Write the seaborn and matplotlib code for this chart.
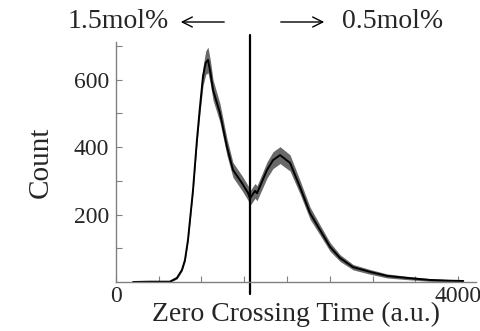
import matplotlib
matplotlib.use("Agg")
import matplotlib.pyplot as plt
import seaborn as sns
import pandas as pd
import numpy as np

# Data
zct = [200, 400, 630, 713, 772, 807, 842, 901, 947, 982, 1018, 1050, 1076, 1105, 1135,
       1216, 1298, 1368, 1474, 1544, 1567, 1626, 1649, 1766, 1836, 1918, 2035, 2152,
       2269, 2386, 2503, 2620, 2772, 2971, 3170, 3404, 3673, 3900, 4060]
counts = [0, 1, 1, 12, 36, 65, 124, 272, 421, 518, 610, 650, 658, 620, 569,
          501, 400, 332, 293, 264, 248, 270, 263, 332, 361, 376, 353, 281,
          204, 154, 104, 71, 44, 30, 18, 12, 6, 4, 3]
spread = [2, 2, 2, 3, 4, 5, 6, 8, 12, 18, 28, 35, 38, 35, 30,
          28, 25, 22, 22, 22, 22, 22, 22, 24, 25, 25, 24, 20,
          18, 15, 13, 10, 8, 7, 6, 5, 4, 3, 3]
boundary = 1565
xtick_vals = [0, 500, 1000, 1500, 2000, 2500, 3000, 3500, 4000]
xtick_labels = ["0", "", "", "", "", "", "", "", "4000"]
ytick_major = [200, 400, 600]
ytick_minor = [100, 300, 500, 700]

df = pd.DataFrame({"t": zct, "c": counts})
lo = np.array(counts) - np.array(spread)
hi = np.array(counts) + np.array(spread)

sns.set_theme(style="ticks")
plt.rcParams["font.family"] = ["Liberation Serif", "DejaVu Serif"]

fig = plt.figure(figsize=(4.81, 3.31), dpi=100)
ax = fig.add_axes([0.241, 0.148, 0.749, 0.725])

ax.fill_between(zct, lo, hi, color="#444444", linewidth=0, alpha=0.8)
sns.lineplot(data=df, x="t", y="c", ax=ax, color="black", linewidth=1.4)

ax.plot([boundary, boundary], [-35, 732], color="black", linewidth=1.6, clip_on=False)

ax.set_xlim(0, 4211)
ax.set_ylim(0, 711)

ax.set_xticks(xtick_vals)
ax.set_xticklabels(xtick_labels, fontsize=17)
ax.set_yticks(ytick_major)
ax.set_yticklabels([str(v) for v in ytick_major], fontsize=17)
ax.set_yticks(ytick_minor, minor=True)

ax.tick_params(axis="both", which="both", direction="in", color="#808080", length=4, width=0.8)
ax.tick_params(axis="x", pad=3)
ax.tick_params(axis="y", pad=5)

for s in ["top", "right"]:
    ax.spines[s].set_visible(False)
for s in ["left", "bottom"]:
    ax.spines[s].set_color("#808080")
    ax.spines[s].set_linewidth(1.0)

ax.set_xlabel("Zero Crossing Time (a.u.)", fontsize=20, labelpad=-4)
ax.set_ylabel("Count", fontsize=21, labelpad=14)

# annotations above the plot
fig.text(68 / 481, 1 - 22 / 331, "1.5mol%", fontsize=20, ha="left", va="center")
fig.text(443 / 481, 1 - 22 / 331, "0.5mol%", fontsize=20, ha="right", va="center")
ax.annotate("", xy=(178 / 481, 1 - 22 / 331), xytext=(227 / 481, 1 - 22 / 331),
            xycoords="figure fraction", textcoords="figure fraction",
            arrowprops=dict(arrowstyle="->", color="black", lw=1.0, mutation_scale=18))
ax.annotate("", xy=(327 / 481, 1 - 22 / 331), xytext=(278 / 481, 1 - 22 / 331),
            xycoords="figure fraction", textcoords="figure fraction",
            arrowprops=dict(arrowstyle="->", color="black", lw=1.0, mutation_scale=18))

fig.savefig("out.png", dpi=100)
